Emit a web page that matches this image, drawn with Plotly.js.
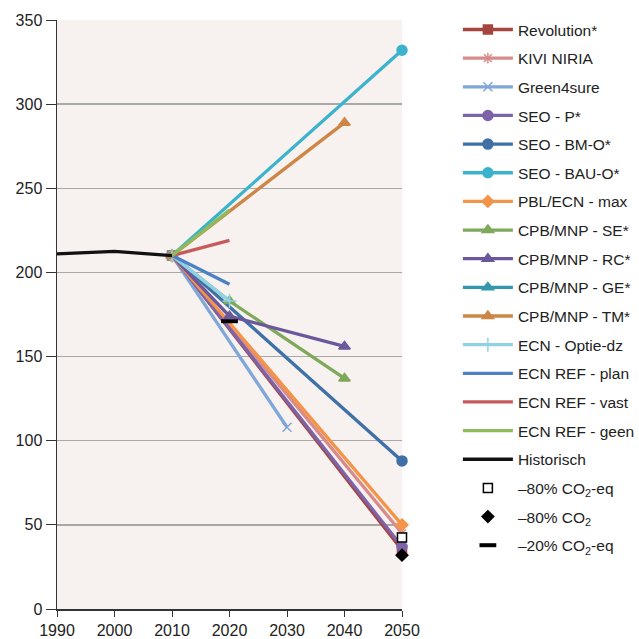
<!DOCTYPE html>
<html>
<head>
<meta charset="utf-8">
<script src="https://cdn.plot.ly/plotly-3.0.1.min.js"></script>
<style>html,body{margin:0;padding:0;background:#fff;}#chart{width:639px;height:639px;}</style>
</head>
<body>
<div id="chart"></div>
<script>
// Series data (year, value)
const revolutionX = [2010, 2050];       const revolutionY = [210, 35];
const kiviX = [2010, 2050];             const kiviY = [210, 45];
const green4sureX = [2010, 2030];       const green4sureY = [210, 108];
const seoPX = [2010, 2050];             const seoPY = [210, 37];
const seoBMX = [2010, 2050];            const seoBMY = [210, 88];
const seoBAUX = [2010, 2050];           const seoBAUY = [210, 332];
const pblMaxX = [2010, 2050];           const pblMaxY = [210, 50];
const cpbSEX = [2010, 2020, 2040];      const cpbSEY = [210, 183, 137];
const cpbRCX = [2010, 2020, 2040];      const cpbRCY = [210, 174, 156];
const cpbGEX = [2010];                  const cpbGEY = [210];
const cpbTMX = [2010, 2040];            const cpbTMY = [210, 289];
const ecnOptieX = [2010, 2020];         const ecnOptieY = [210, 183];
const ecnPlanX = [2010, 2020];          const ecnPlanY = [210, 193];
const ecnVastX = [2010, 2020];          const ecnVastY = [210, 219];
const ecnGeenX = [2010, 2020];          const ecnGeenY = [210, 237];
const histX = [1990, 2000, 2010];       const histY = [211, 212.5, 210];
const target80eqX = [2050];             const target80eqY = [42.5];
const target80X = [2050];               const target80Y = [32];
const target20eqX = [2020];             const target20eqY = [171];

const xTicks = [1990, 2000, 2010, 2020, 2030, 2040, 2050];
const yTicks = [0, 50, 100, 150, 200, 250, 300, 350];

let g = 0;
function line(name, x, y, color, symbol, msize, mode) {
  g++;
  return {
    type: 'scatter', mode: mode || 'lines+markers', name: name, x: x, y: y,
    line: {color: color, width: 3.3},
    marker: {symbol: symbol, size: msize || 9, color: color, line: {color: color, width: 1.5}},
    cliponaxis: false, legendgroup: 'g' + g
  };
}
function pt(name, x, y, symbol, size, fill) {
  g++;
  return {
    type: 'scatter', mode: 'markers', name: name, x: x, y: y,
    marker: {symbol: symbol, size: size, color: fill, line: {color: '#000', width: 1.5}},
    cliponaxis: false, legendgroup: 'g' + g
  };
}

const traces = [
  line('Revolution*', revolutionX, revolutionY, '#a5453f', 'square', 9),
  line('KIVI NIRIA', kiviX, kiviY, '#d88b8b', 'asterisk-open', 9),
  line('Green4sure', green4sureX, green4sureY, '#7fa7d8', 'x-thin-open', 9),
  line('SEO - P*', seoPX, seoPY, '#7d63aa', 'circle', 10),
  line('SEO - BM-O*', seoBMX, seoBMY, '#3f70a6', 'circle', 10),
  line('SEO - BAU-O*', seoBAUX, seoBAUY, '#3cb3cc', 'circle', 10),
  line('PBL/ECN - max', pblMaxX, pblMaxY, '#f39449', 'diamond', 9),
  line('CPB/MNP - SE*', cpbSEX, cpbSEY, '#7fa85a', 'triangle-up', 10),
  line('CPB/MNP - RC*', cpbRCX, cpbRCY, '#6b579b', 'triangle-up', 10),
  line('CPB/MNP - GE*', cpbGEX, cpbGEY, '#3497ad', 'triangle-up', 10),
  line('CPB/MNP - TM*', cpbTMX, cpbTMY, '#cd8646', 'triangle-up', 10),
  line('ECN - Optie-dz', ecnOptieX, ecnOptieY, '#8fd2e8', 'cross-thin-open', 10),
  line('ECN REF - plan', ecnPlanX, ecnPlanY, '#4c82c4', 'circle', 0, 'lines'),
  line('ECN REF - vast', ecnVastX, ecnVastY, '#c65b5b', 'circle', 0, 'lines'),
  line('ECN REF - geen', ecnGeenX, ecnGeenY, '#8cbc5b', 'circle', 0, 'lines'),
  line('Historisch', histX, histY, '#111111', 'circle', 0, 'lines'),
  pt('\u201380% CO<sub>2</sub>-eq', target80eqX, target80eqY, 'square', 9, '#ffffff'),
  pt('\u201380% CO<sub>2</sub>', target80X, target80Y, 'diamond', 9, '#000000'),
  pt('\u201320% CO<sub>2</sub>-eq', target20eqX, target20eqY, 'line-ew', 12, '#000000')
];
traces[traces.length - 1].marker.line.width = 4;

const layout = {
  width: 639, height: 639,
  margin: {l: 57, r: 237, t: 20, b: 30, autoexpand: false},
  paper_bgcolor: '#ffffff',
  plot_bgcolor: '#f7f2f0',
  font: {family: 'Liberation Sans, Arial, sans-serif', size: 16, color: '#222'},
  showlegend: true,
  legend: {
    x: 1.162, xanchor: 'left', y: 1.012, yanchor: 'top',
    font: {size: 15.5, color: '#222'},
    bgcolor: 'rgba(0,0,0,0)',
    traceorder: 'grouped', tracegroupgap: 5.5,
    itemwidth: 50, maxheight: 639
  },
  xaxis: {
    range: [1990, 2050], tickvals: xTicks, ticks: 'outside', ticklen: 6,
    tickcolor: '#333', showline: true, linecolor: '#333', linewidth: 1.5,
    showgrid: false, zeroline: false, tickfont: {size: 16}, ticklabelstandoff: 0
  },
  yaxis: {
    range: [0, 350], tickvals: yTicks, ticks: 'outside', ticklen: 10,
    tickcolor: '#333', showline: true, linecolor: '#333', linewidth: 1.5,
    showgrid: true, gridcolor: '#a8a8a8', gridwidth: 1.5, zeroline: false,
    tickfont: {size: 16}
  }
};

Plotly.newPlot('chart', traces, layout, {displayModeBar: false, staticPlot: true});
</script>
</body>
</html>
